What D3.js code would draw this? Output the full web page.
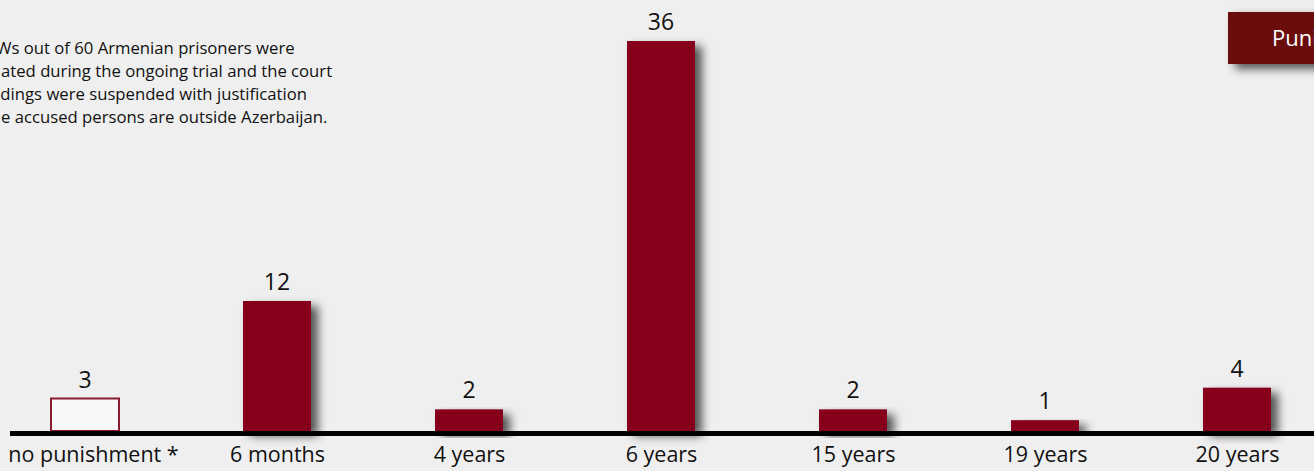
<!DOCTYPE html>
<html>
<head>
<meta charset="utf-8">
<script src="https://cdn.jsdelivr.net/npm/d3@7"></script>
<style>
  html, body { margin: 0; padding: 0; background: #efefef; overflow: hidden; }
  svg { display: block; font-family: "Open Sans", "Noto Sans", sans-serif; }
</style>
</head>
<body>
<div id="chart"></div>
<script>
// punishments of the Armenian prisoners
const categories = ["no punishment *", "6 months", "4 years", "6 years", "15 years", "19 years", "20 years"]
const counts = [3, 12, 2, 36, 2, 1, 4]
const noteLines = [
    "Ws out of 60 Armenian prisoners were",
    "ated during the ongoing trial and the court",
    "edings were suspended with justification",
    "e accused persons are outside Azerbaijan."
]
const noteOffsets = [-4, 1, -9, 1]
const badgeText = "Punishment"

const width = 1314
const height = 471
const baseY = 431

const svg = d3.select("#chart")
    .append("svg")
    .attr("width", width)
    .attr("height", height)

const defs = svg.append("defs")
const shadow = defs.append("filter")
    .attr("id", "shadow")
    .attr("x", "-30%").attr("y", "-10%")
    .attr("width", "170%").attr("height", "140%")
shadow.append("feDropShadow")
    .attr("dx", 7).attr("dy", 5)
    .attr("stdDeviation", 5)
    .attr("flood-color", "#000")
    .attr("flood-opacity", 0.65)

const x = d3.scalePoint()
    .domain(categories)
    .range([85, 1237])
const barWidth = 68

const y = d3.scaleLinear()
    .domain([0, 36])
    .range([baseY, 41])

// badge in the top right corner
svg.append("rect")
    .attr("x", 1228).attr("y", 12)
    .attr("width", 120).attr("height", 52)
    .attr("fill", "#6a0c11")
    .attr("filter", "url(#shadow)")
svg.append("text")
    .attr("x", 1272).attr("y", 46)
    .attr("fill", "#fff")
    .style("font-size", "22px")
    .text(badgeText)

// footnote text
svg.append("g")
    .selectAll("text")
    .data(noteLines)
    .join("text")
    .attr("x", (d, i) => noteOffsets[i])
    .attr("y", (d, i) => 54 + i * 23)
    .attr("fill", "#111")
    .style("font-size", "16.7px")
    .text(d => d)

const data = categories.map((c, i) => ({ cat: c, value: counts[i] }))

// bars (first one is drawn as an outline only)
svg.append("g")
    .selectAll("rect")
    .data(data)
    .join("rect")
    .attr("x", d => x(d.cat) - barWidth / 2)
    .attr("y", d => y(d.value))
    .attr("width", barWidth)
    .attr("height", d => baseY - y(d.value))
    .attr("fill", (d, i) => i == 0 ? "#f8f8f8" : "#86001e")
    .attr("stroke", (d, i) => i == 0 ? "#8a1a2c" : "none")
    .attr("stroke-width", 2)
    .attr("filter", (d, i) => i == 0 ? null : "url(#shadow)")

// value labels
svg.append("g")
    .selectAll("text")
    .data(data)
    .join("text")
    .attr("x", d => x(d.cat))
    .attr("y", d => y(d.value) - 11)
    .attr("text-anchor", "middle")
    .attr("fill", "#111")
    .style("font-size", "23px")
    .text(d => d.value)

// x axis
const xAxis = svg.append("g")
    .attr("transform", `translate(0, ${baseY + 2.5})`)
    .call(d3.axisBottom(x).tickSize(0).tickPadding(13))
xAxis.select(".domain")
    .attr("d", "M10,0H1314")
    .attr("stroke", "#000")
    .attr("stroke-width", 5)
xAxis.selectAll("text")
    .attr("fill", "#111")
    .style("font-size", "21.5px")
    .style("font-family", "'Open Sans', 'Noto Sans', sans-serif")
// the asterisk label sits a bit to the right of its box
xAxis.selectAll("text").filter((d, i) => i == 0).attr("dx", 8)
</script>
</body>
</html>
